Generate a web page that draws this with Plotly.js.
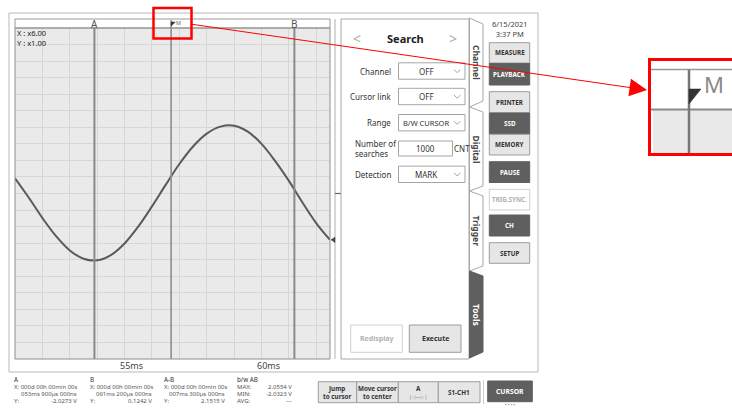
<!DOCTYPE html>
<html><head><meta charset="utf-8">
<script src="https://cdn.plot.ly/plotly-3.0.1.min.js"></script>
<style>html,body{margin:0;padding:0;background:#fff;overflow:hidden}#chart{width:732px;height:408px}</style>
</head><body><div id="chart"></div>
<script>
// ---- data ----
const timeMs = [51.0,51.5,52.0,52.5,53.0,53.5,54.0,54.5,55.0,55.5,56.0,56.5,57.0,57.5,58.0,58.5,59.0,59.5,60.0,60.5,61.0,61.5,62.0,62.5];
const voltage = [0.46,-0.12,-0.74,-1.29,-1.72,-1.97,-2.02,-1.86,-1.51,-1.00,-0.39,0.26,0.89,1.42,1.81,2.02,2.05,1.87,1.50,0.98,0.38,-0.28,-0.90,-1.40];
const xRange = [51, 62.5];
const yRange = [-5, 5];
const cursorNames = ['A','B'];
const cursorTimes = [53.9, 61.2];
const triggerName = 'M';
const triggerTime = 56.7;
const xTickVals = [55, 60];
const xTickText = ['55ms','60ms'];
const zoomText = ['X : x6.00','Y : x1.00'];
const infoHeads = ['A','B','A-B','b/w AB'];
const infoA = ['X: 000d 00h 00min 00s','053ms 900µs 000ns','-2.0273 V'];
const infoB = ['X: 000d 00h 00min 00s','061ms 200µs 000ns','0.1242 V'];
const infoAB = ['X: 000d 00h 00min 00s','007ms 300µs 000ns','2.1515 V'];
const statLabels = ['MAX:','MIN:','AVG:'];
const statValues = ['2.0554 V','-2.0323 V','---'];
const searchLabels = ['Channel','Cursor link','Range','Number of<br>searches','Detection'];
const searchValues = ['OFF','OFF','B/W CURSOR','1000','MARK'];
const tabNames = ['Channel','Digital','Trigger','Tools'];
const sideButtons = ['MEASURE','PLAYBACK','PRINTER','SSD','MEMORY','PAUSE','TRIG.SYNC.','CH','SETUP'];
const bottomButtons = ['Jump<br>to cursor','Move cursor<br>to center','A<br><span style="font-size:5px;color:#999">|◁—▷|</span>','S1-CH1'];
const dateText = ['6/15/2021','3:37 PM'];

// ---- helpers (pixel -> paper) ----
const W = 732, H = 408;
const px = x => x / W;
const py = y => 1 - y / H;
const FONT = 'Noto Sans, DejaVu Sans, sans-serif';
const shapes = [];
const ann = [];
function rect(x0,y0,x1,y1,fill,line,lw,layer){
  shapes.push({type:'rect',xref:'paper',yref:'paper',x0:px(x0),x1:px(x1),y0:py(y1),y1:py(y0),
    fillcolor:fill||'rgba(0,0,0,0)',line:{color:line||'rgba(0,0,0,0)',width:lw===undefined?1:lw},layer:layer||'above'});
}
function line(x0,y0,x1,y1,color,w){
  shapes.push({type:'line',xref:'paper',yref:'paper',x0:px(x0),x1:px(x1),y0:py(y0),y1:py(y1),line:{color:color,width:w||1},layer:'above'});
}
function path(pts,fill,color,w,closed){
  let d = pts.map((p,i)=>(i?'L':'M')+px(p[0])+','+py(p[1])).join(' ') + (closed===false?'':' Z');
  shapes.push({type:'path',xref:'paper',yref:'paper',path:d,fillcolor:fill||'rgba(0,0,0,0)',line:{color:color||'rgba(0,0,0,0)',width:w===undefined?1:w},layer:'above'});
}
function text(x,y,t,size,color,anchor,extra){
  ann.push(Object.assign({xref:'paper',yref:'paper',x:px(x),y:py(y),text:t,showarrow:false,borderpad:0,
    xanchor:anchor||'center',yanchor:'middle',font:{family:FONT,size:size,color:color}},extra||{}));
}
function button(x0,y0,x1,y1,label,kind,size){
  const fill = kind==='dark'?'#5f5f5f':(kind==='white'?'#ffffff':'#e6e6e6');
  const border = kind==='dark'?'#5f5f5f':(kind==='white'?'#cfcfcf':'#9d9d9d');
  const col = kind==='dark'?'#ffffff':(kind==='white'?'#b0b0b0':'#333333');
  rect(x0,y0,x1,y1,fill,border,1);
  text((x0+x1)/2,(y0+y1)/2,'<b>'+label+'</b>',size||6.5,col,'center');
}

// ---- outer frame & chart decorations ----
rect(9,13,538,372,null,'#b9b9b9',1,'below');
rect(15,19,330,28,'#ffffff','#9a9a9a',1);           // header strip
rect(15,28,330,359,null,'#8f8f8f',1);               // plot border
line(335,19,335,359,'#b0b0b0',1);                    // strip line
line(335,193.5,341,193.5,'#666',1.2);               // zero mark
// cursor lines (data x)
cursorTimes.forEach((t,i)=>{
  shapes.push({type:'line',xref:'x',yref:'paper',x0:t,x1:t,y0:py(359),y1:py(27),line:{color:'#8a8a8a',width:2},layer:'above'});
  ann.push({xref:'x',yref:'paper',x:t,y:py(23.5),text:cursorNames[i],showarrow:false,xanchor:'center',yanchor:'middle',font:{family:FONT,size:10,color:'#555'}});
});
shapes.push({type:'line',xref:'x',yref:'paper',x0:triggerTime,x1:triggerTime,y0:py(359),y1:py(20),line:{color:'#8e8e8e',width:1.6},layer:'above'});
shapes.push({type:'path',xref:'x',yref:'paper',path:`M${triggerTime},${py(22)} L${triggerTime+0.15},${py(22)} L${triggerTime},${py(26)} Z`,fillcolor:'#333',line:{color:'#333',width:0.5},layer:'above'});
ann.push({xref:'x',yref:'paper',x:triggerTime,xshift:3,y:py(22.5),text:triggerName,showarrow:false,xanchor:'left',yanchor:'middle',font:{family:FONT,size:5.5,color:'#666'}});
// trace end marker
const vEnd = voltage[voltage.length-1];
shapes.push({type:'path',xref:'paper',yref:'y',path:`M${px(331)},${vEnd} L${px(335)},${vEnd+0.08} L${px(335)},${vEnd-0.08} Z`,fillcolor:'#444',line:{color:'#444',width:0.5},layer:'above'});
text(16,37.5,zoomText.join('<br>'),7.5,'#222','left',{align:'left'});

// ---- Search panel ----
rect(341,19,469,359,'#ffffff','#a8a8a8',1);
text(357,38,'<',14,'#aaaaaa','center');
text(453,38,'>',14,'#aaaaaa','center');
text(406,38,'<b>Search</b>',11,'#222','center');
const rowY = [71,96.5,122.7,148.5,174.3];
searchLabels.forEach((lab,i)=>{
  if(i===3){ text(354,rowY[i],lab,8,'#333','left',{align:'left'}); }
  else { text(392,rowY[i],lab,8,'#333','right'); }
  if(i===3){
    rect(398.5,rowY[i]-7.5,452.5,rowY[i]+7.5,'#fff','#a5a5a5',1);
    text(425.5,rowY[i],searchValues[i],8,'#333','center');
    text(462.5,rowY[i],'CNT',8,'#333','center');
  } else {
    rect(398.5,rowY[i]-8.2,465,rowY[i]+8.2,'#fff','#a5a5a5',1);
    text(426,rowY[i],searchValues[i],i===2?7.5:8,'#333','center');
    path([[454,rowY[i]-1.5],[457.2,rowY[i]+1.7],[460.4,rowY[i]-1.5]],null,'#8a8a8a',0.8,false);
  }
});
button(350.7,325,402.3,352.3,'Redisplay','white',7);
button(409.3,325,461,352.3,'Execute','light',7);
// tabs
const tabs = [[18,24,101,107],[107,112,186,191],[191,196,266,271],[271,276,352,358]];
tabs.forEach((tb,i)=>{
  const dark = i===3;
  path([[469.5,tb[0]],[483,tb[1]],[483,tb[2]],[469.5,tb[3]]],dark?'#5f5f5f':'#ffffff',dark?'#5f5f5f':'#a8a8a8',1);
  text(476.5,(tb[0]+tb[3])/2,'<b>'+tabNames[i]+'</b>',8.5,dark?'#ffffff':'#444','center',{textangle:90});
});

// ---- side buttons ----
text(509.5,29.5,dateText.join('<br>'),7.5,'#444','center');
const sideY = [[42.7,63.3],[63.3,85],[91.7,113],[113,134.3],[134.3,155],[161.7,182.5],[189.3,210],[215,236],[242.7,263.3]];
const sideKind = ['light','dark','light','dark','light','dark','white','dark','light'];
sideButtons.forEach((b,i)=>button(489.3,sideY[i][0],529.7,sideY[i][1],b,sideKind[i],6.3));

// ---- bottom info ----
const FS = 6;
const colX = [13,89,162.7,236];
const colR = [77.7,152.7,226,293.3];
const rowsY = [379.3,386.5,393.5,401];
infoHeads.forEach((h,i)=>text(colX[i],rowsY[0],h,FS+0.3,'#333','left'));
[infoA,infoB,infoAB].forEach((arr,i)=>{
  text(colX[i],rowsY[1],arr[0],FS,'#555','left');
  text(colR[i],rowsY[2],arr[1],FS,'#555','right');
  text(colX[i],rowsY[3],'Y:',FS,'#555','left');
  text(colR[i],rowsY[3],arr[2],FS,'#555','right');
});
statLabels.forEach((s,i)=>{
  text(colX[3],rowsY[i+1],s,FS,'#555','left');
  text(colR[3],rowsY[i+1],statValues[i],FS,'#555','right');
});
const bbX = [[318.3,356.7],[356.7,398.3],[398.3,438.3],[438.3,480]];
bottomButtons.forEach((b,i)=>button(bbX[i][0],381.7,bbX[i][1],402.7,b,'light',6.3));
line(483.5,380,483.5,404,'#cccccc',1);
button(487.7,381,532.3,401.7,'CURSOR','dark',6.8);
text(510,405,'• • • •',4.5,'#777','center');

// ---- red callout ----
rect(653,60,735,154,'#ffffff',null,0);
rect(653,109.5,735,154,'#e9e9e9',null,0);
line(650,69.5,735,69.5,'#999',1.5);
line(650,109.5,735,109.5,'#8a8a8a',2);
line(689,69.5,689,154,'#777',2.5);
path([[689,89],[701,89],[689,104]],'#333','#333',0.5);
text(714,84,'M',22,'#8a8a8a','center');
rect(649.5,59.5,734,154.5,null,'#ff0000',3);
rect(153.5,8,191.5,38.5,null,'#ff0000',2.5);
ann.push({xref:'paper',yref:'paper',x:px(647),y:py(90),ax:190-647,ay:24-90,text:'',showarrow:true,
  arrowhead:2,arrowsize:3.5,arrowwidth:1,arrowcolor:'#ff0000',standoff:0});

// ---- plot ----
const trace = {x:timeMs,y:voltage,type:'scatter',mode:'lines',line:{color:'#5a5a5a',width:2,shape:'spline',smoothing:1},hoverinfo:'skip'};
const layout = {
  width:W,height:H,margin:{l:0,r:0,t:0,b:0},paper_bgcolor:'#ffffff',plot_bgcolor:'#eaeaea',showlegend:false,
  font:{family:FONT},
  xaxis:{domain:[px(15),px(330)],range:xRange,tickmode:'array',tickvals:xTickVals,ticktext:xTickText,
    ticks:'',ticklabelshift:7,tickfont:{family:FONT,size:9,color:'#444'},showgrid:true,gridcolor:'#d6d6d6',gridwidth:1,
    minor:{tickmode:'linear',tick0:0,dtick:1,showgrid:true,gridcolor:'#d6d6d6',gridwidth:1,ticks:''},
    zeroline:false,showline:false,fixedrange:true},
  yaxis:{domain:[py(359),py(28)],range:yRange,dtick:0.5,showgrid:true,gridcolor:'#d6d6d6',gridwidth:1,
    showticklabels:false,ticks:'',zeroline:false,showline:false,fixedrange:true},
  shapes:shapes,annotations:ann
};
Plotly.newPlot('chart',[trace],layout,{staticPlot:true,displayModeBar:false});
</script></body></html>
